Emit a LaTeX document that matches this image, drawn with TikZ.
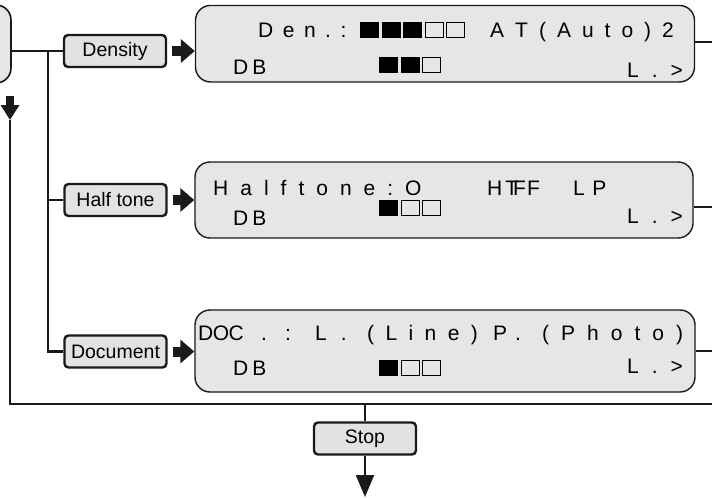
\documentclass[tikz,border=0pt]{standalone}
\usepackage{fontspec}
\setmainfont{Liberation Sans}
\usetikzlibrary{positioning,arrows.meta}
\usepackage{xcolor}
\definecolor{panelgray}{HTML}{E6E6E6}
\definecolor{keygray}{HTML}{E2E2E2}
\definecolor{inkline}{HTML}{1A1A1A}
\newcommand{\keyfont}{\fontsize{19.5}{22}\selectfont}
\newcommand{\lcdfont}{\fontsize{21}{24}\selectfont}
\newcommand{\sqB}{\rule[-0.9pt]{19pt}{16pt}\kern2.5pt}
\newcommand{\sqW}{{\fboxsep=0pt\fboxrule=0.9pt\fbox{\rule{0pt}{14.2pt}\rule{17.2pt}{0pt}}}\kern2.5pt}
\makeatletter
\newcommand{\spaced}[2]{\@tfor\sp@c:=#2\do{\sp@c\kern#1}}
\makeatother

\begin{document}
\begin{tikzpicture}[x=1pt, y=-1pt,
  key/.style={draw=inkline, fill=keygray, line width=2.4pt, rounded corners=4pt,
    minimum width=102pt, minimum height=32pt, inner sep=0pt, font=\keyfont},
  panel/.style={draw=inkline, fill=panelgray, line width=1.4pt,
    rounded corners=15pt, inner sep=0pt},
  lcd/.style={font=\lcdfont, inner sep=0pt, anchor=base west},
  conn/.style={draw=inkline, line width=2.3pt},
  blk/.style={draw=inkline, line width=10pt,
    -{Triangle[length=14pt, width=23pt]}, shorten <=5pt}
]
\useasboundingbox (0,0) rectangle (712,498);
\clip (0,0) rectangle (712,498);

% Previous screen (cut off at the left)
\node[panel, line width=1.6pt, minimum width=42pt, minimum height=78pt] (prev) at (-10,44) {};

% Setting keys
\node[key] (dens) at (115,51) {Density};
\node[key] (half) at (115.5,200) {Half tone};
\node[key] (doc) at (115.5,351.5) {Document};
\node[key] (stop) at (365,438.5) {Stop};

% Display panels
\node[panel, minimum width=499pt, minimum height=76.5pt] (lcdA) at (445,43.7) {};
\node[panel, minimum width=498pt, minimum height=76pt] (lcdB) at (444,200) {};
\node[panel, minimum width=500pt, minimum height=82pt] (lcdC) at (445,351) {};

% Panel A: density
\node[lcd] (denA) at (258,37) {\spaced{9.5pt}{Den.:}};
\node[lcd] (barA) at (360,37) {\sqB\sqB\sqB\sqW\sqW};
\node[lcd] (autoA) at (490,37) {\spaced{11pt}{AT(Auto)2}};
\node[lcd] (dbA) at (233,74) {\spaced{4pt}{DB}};
\node[lcd] (lvA) at (379,72) {\sqB\sqB\sqW};
\node[lcd] (moreA) at (627,77) {\spaced{13pt}{L.>}};

% Panel B: half tone
\node[lcd] (htB) at (213,195) {\spaced{12pt}{Halftone:O}};
\node[lcd] (hfB) at (487,195) {H\kern3pt T\kern-5pt F\kern1pt F};
\node[lcd] (lpB) at (573,195) {\spaced{7.5pt}{LP}};
\node[lcd] (dbB) at (233,225) {\spaced{4pt}{DB}};
\node[lcd] (lvB) at (379,215) {\sqB\sqW\sqW};
\node[lcd] (moreB) at (627,223) {\spaced{13pt}{L.>}};

% Panel C: document type
\node[lcd] (docC) at (198,340) {\spaced{-0.5pt}{DOC}};
\node[lcd] (colC) at (261,340) {\spaced{18pt}{.:}};
\node[lcd] (lC) at (315,340) {\spaced{14pt}{L.}};
\node[lcd] (lineC) at (367,340) {\spaced{11.4pt}{(Line)}};
\node[lcd] (pC) at (493,340) {\spaced{8pt}{P.}};
\node[lcd] (photoC) at (542,340) {\spaced{12pt}{(Photo)}};
\node[lcd] (dbC) at (233,375) {\spaced{4pt}{DB}};
\node[lcd] (lvC) at (379,375) {\sqB\sqW\sqW};
\node[lcd] (moreC) at (627,373) {\spaced{13pt}{L.>}};

% Branching to the keys
\coordinate (br) at (48,51);
\draw[conn] (prev.east |- dens.west) -- (dens.west);
\draw[conn] (br) |- (doc.west);
\draw[conn] (br |- half.west) -- (half.west);

% Keys into panels
\draw[blk] (dens.east) -- (dens.east -| lcdA.west);
\draw[blk] (half.east) -- (half.east -| lcdB.west);
\draw[blk] (doc.east) -- (doc.east -| lcdC.west);

% Panels leave to the right
\coordinate (outA) at (712,42);
\coordinate (outB) at (712,207);
\coordinate (outC) at (712,351);
\draw[conn] (lcdA.east |- outA) -- (outA);
\draw[conn] (lcdB.east |- outB) -- (outB);
\draw[conn] (lcdC.east |- outC) -- (outC);

% Return loop and stop
\coordinate (outD) at (712,404);
\coordinate (up) at (10,120);
\coordinate (end) at (365,497);
\draw[conn] (outD) -| (up);
\draw[draw=inkline, line width=8pt, -{Triangle[length=15pt, width=18pt]},
  shorten <=12pt] (prev.south -| up) -- (up);
\draw[conn] (stop.north |- outD) -- (stop.north);
\draw[conn, -{Triangle[length=22pt, width=18pt]}] (stop) -- (end);

\end{tikzpicture}
\end{document}
